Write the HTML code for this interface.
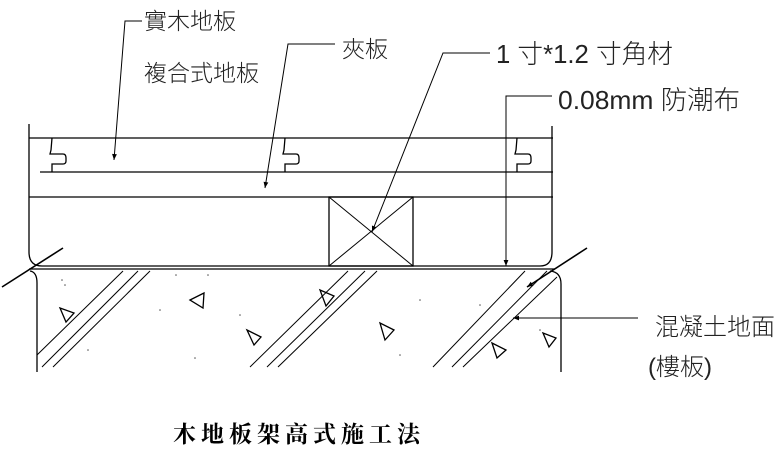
<!DOCTYPE html>
<html><head><meta charset="utf-8"><style>
html,body{margin:0;padding:0;background:#fff;width:776px;height:450px;overflow:hidden}
text{font-family:"Liberation Sans","Noto Sans CJK TC",sans-serif;font-weight:300;fill:#222}
</style></head><body>
<svg width="776" height="450" viewBox="0 0 776 450" xmlns="http://www.w3.org/2000/svg">
<defs>
<marker id="ar" viewBox="0 0 10 10" refX="10" refY="5" markerWidth="16" markerHeight="6" markerUnits="userSpaceOnUse" orient="auto"><path d="M0,1 L10,5 L0,9 z" fill="#000"/></marker>
</defs>
<g stroke="#000" stroke-width="1.3" fill="none">
<path d="M29,124 V252 Q29,266 42,266 H540 Q552,266 552,252 V126"/>
<line x1="29" y1="138" x2="553" y2="138"/>
<line x1="40" y1="172" x2="553" y2="172"/>
<line x1="29" y1="197" x2="553" y2="197"/>
<line x1="29" y1="269" x2="555" y2="269"/>
<path d="M52,138 L51,150 L50,154 L63,154 Q66,154 66,158 L66,161 Q66,164 63,164 L52,164 L52,172"/>
<path d="M285,138 L284,150 L283,154 L296,154 Q299,154 299,158 L299,161 Q299,164 296,164 L285,164 L285,172"/>
<path d="M517,138 L516,150 L515,154 L528,154 Q531,154 531,158 L531,161 Q531,164 528,164 L517,164 L517,172"/>
<rect x="329" y="197" width="84" height="69"/>
<line x1="329" y1="197" x2="413" y2="266" stroke-width="1"/>
<line x1="413" y1="197" x2="329" y2="266" stroke-width="1"/>
<path d="M30,271 Q37,272 37,283 V372"/>
<path d="M550,271 Q561,272 561,284 V372"/>
<line x1="2" y1="287" x2="63" y2="248" stroke-width="1.6"/>
<line x1="587" y1="248" x2="527" y2="287" stroke-width="1.6" marker-end="url(#ar)"/>
<g stroke-width="1">
<line x1="37" y1="355" x2="123" y2="271"/><line x1="42" y1="367" x2="138" y2="271"/><line x1="53" y1="367" x2="150" y2="271"/>
<line x1="250" y1="367" x2="348" y2="271"/><line x1="267" y1="367" x2="365" y2="271"/><line x1="278" y1="367" x2="377" y2="271"/>
<line x1="433" y1="367" x2="525" y2="271"/><line x1="452" y1="367" x2="547" y2="271"/><line x1="463" y1="367" x2="557" y2="277"/>
</g>
<g stroke-width="1.3">
<path d="M60,308 L74,313 L66,322 z"/>
<path d="M190,300 L204,293 L203,308 z"/>
<path d="M320,290 L334,296 L326,306 z"/>
<path d="M247,330 L261,337 L254,345 z"/>
<path d="M380,323 L394,330 L385,340 z"/>
<path d="M492,343 L506,350 L497,358 z"/>
<path d="M543,333 L556,338 L549,347 z"/>
</g>
<g stroke-width="1">
<polyline points="142,21 125,21 114,160" marker-end="url(#ar)"/>
<polyline points="335,44 288,44 265,188" marker-end="url(#ar)"/>
<polyline points="490,53 443,53 372,232" marker-end="url(#ar)"/>
<polyline points="552,96 506,96 506,266" marker-end="url(#ar)"/>
<line x1="638" y1="318" x2="513" y2="318" marker-end="url(#ar)"/>
</g>
</g>
<g fill="#555">
<circle cx="62" cy="280" r="0.8"/><circle cx="65" cy="285" r="0.8"/><circle cx="176" cy="275" r="0.8"/><circle cx="208" cy="275" r="0.8"/><circle cx="160" cy="310" r="0.8"/><circle cx="88" cy="350" r="0.8"/><circle cx="240" cy="315" r="0.8"/><circle cx="420" cy="300" r="0.8"/><circle cx="480" cy="305" r="0.8"/><circle cx="540" cy="330" r="0.8"/><circle cx="195" cy="358" r="0.8"/><circle cx="400" cy="355" r="0.8"/>
</g>
<text x="144" y="29" font-size="23">實木地板</text>
<text x="144" y="81" font-size="23">複合式地板</text>
<text x="342" y="57" font-size="23">夾板</text>
<text x="496" y="63" font-size="26" textLength="177" lengthAdjust="spacingAndGlyphs">1 寸*1.2 寸角材</text>
<text x="558" y="109" font-size="26" textLength="182" lengthAdjust="spacingAndGlyphs">0.08mm 防潮布</text>
<text x="655" y="335" font-size="24">混凝土地面</text>
<text x="648" y="375" font-size="24">(樓板)</text>
<text x="173" y="442" font-size="23" letter-spacing="5" style="font-family:'Liberation Serif','Noto Serif CJK SC',serif;font-weight:700;fill:#000">木地板架高式施工法</text>
</svg>
</body></html>
